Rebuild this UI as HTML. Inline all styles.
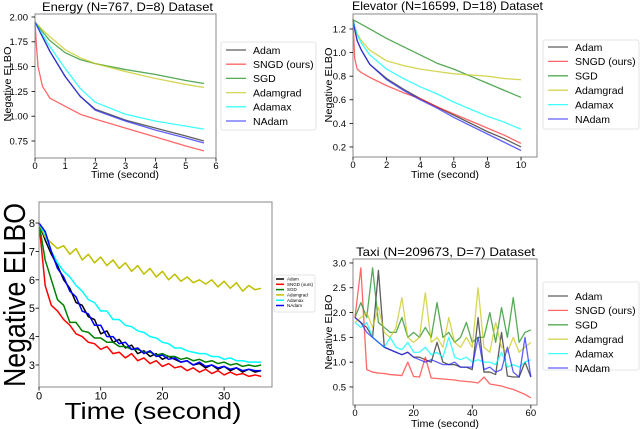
<!DOCTYPE html>
<html><head><meta charset="utf-8"><style>
body{margin:0;background:#fff;width:640px;height:429px;overflow:hidden}
svg{display:block;font-family:"Liberation Sans","DejaVu Sans",sans-serif}
</style></head><body>
<svg id="fig" width="640" height="429" viewBox="0 0 640 429"></svg>
<script>
const seriesNames=["Adam","SNGD (ours)","SGD","Adamgrad","Adamax","NAdam"];
// Energy
const energyT=[0,0.05,0.1,0.25,0.5,1,1.5,2,3,4,5,5.6];
const energyAdam=[1.95,1.92,1.89,1.80,1.65,1.40,1.20,1.07,0.96,0.88,0.80,0.75];
const energySNGD=[1.95,1.7,1.5,1.3,1.18,1.10,1.02,0.97,0.88,0.79,0.70,0.65];
const energySGD=[1.95,1.93,1.91,1.85,1.76,1.64,1.57,1.53,1.47,1.42,1.36,1.33];
const energyAdamgrad=[1.95,1.93,1.92,1.87,1.80,1.67,1.59,1.53,1.45,1.38,1.32,1.29];
const energyAdamax=[1.95,1.92,1.89,1.82,1.70,1.48,1.28,1.14,1.02,0.95,0.90,0.87];
const energyNAdam=[1.95,1.92,1.89,1.80,1.65,1.40,1.20,1.06,0.95,0.86,0.78,0.73];
const energyXTicks=[0,1,2,3,4,5,6];
const energyYTicks=["0.75","1.00","1.25","1.50","1.75","2.00"];
// Elevator
const elevT=[0,0.1,0.25,0.5,1,2,3,4,5,6,7,8,9,10];
const elevAdam=[1.28,1.2,1.1,1.02,0.90,0.78,0.69,0.61,0.54,0.47,0.40,0.33,0.27,0.20];
const elevSNGD=[1.28,0.95,0.86,0.83,0.79,0.72,0.66,0.61,0.54,0.48,0.42,0.36,0.30,0.23];
const elevSGD=[1.28,1.27,1.26,1.24,1.20,1.12,1.05,0.98,0.91,0.86,0.80,0.74,0.68,0.62];
const elevAdamgrad=[1.28,1.22,1.16,1.10,1.02,0.93,0.89,0.86,0.84,0.82,0.81,0.80,0.78,0.77];
const elevAdamax=[1.28,1.22,1.15,1.08,0.98,0.86,0.78,0.71,0.65,0.58,0.52,0.46,0.41,0.35];
const elevNAdam=[1.28,1.2,1.1,1.02,0.90,0.77,0.68,0.60,0.53,0.45,0.38,0.31,0.24,0.17];
const elevXTicks=[0,2,4,6,8,10];
const elevYTicks=["0.2","0.4","0.6","0.8","1.0","1.2"];
// Big (bottom-left)
const bigT=[0,1,2,3,4,5,6,7,8,9,10,11,12,13,14,15,16,17,18,19,20,21,22,23,24,25,26,27,28,29,30,31,32,33,34,35,36];
const bigAdam=[8.0,7.4,6.9,6.5,6.0,5.7,5.2,5.1,4.7,4.6,4.1,4.2,3.8,3.9,3.6,3.7,3.4,3.5,3.3,3.4,3.2,3.3,3.2,3.1,3.15,3.0,3.05,2.9,3.0,2.85,2.95,2.8,2.9,2.75,2.85,2.75,2.8];
const bigSNGD=[8.0,5.8,5.1,4.9,4.6,4.4,4.1,4.0,3.8,3.75,3.55,3.65,3.4,3.45,3.25,3.4,3.15,3.25,3.05,3.15,2.95,3.05,2.9,2.95,2.8,2.9,2.75,2.85,2.7,2.8,2.65,2.75,2.65,2.7,2.6,2.65,2.6];
const bigSGD=[8.0,6.7,6.0,5.3,5.1,4.5,4.5,4.2,4.15,3.95,3.95,3.8,3.8,3.65,3.65,3.55,3.55,3.45,3.45,3.35,3.4,3.3,3.3,3.2,3.25,3.15,3.2,3.1,3.15,3.05,3.1,3.0,3.05,2.95,3.0,2.95,3.0];
const bigAdamgrad=[8.0,7.5,7.3,7.1,7.2,6.9,7.1,6.7,6.9,6.6,6.8,6.5,6.7,6.4,6.6,6.3,6.5,6.2,6.4,6.1,6.3,6.0,6.2,5.95,6.1,5.9,6.0,5.85,6.0,5.75,5.95,5.7,5.9,5.6,5.8,5.65,5.7];
const bigAdamax=[8.0,7.6,7.0,6.6,6.3,6.1,5.8,5.6,5.3,5.2,4.9,4.9,4.6,4.6,4.4,4.35,4.2,4.15,4.0,3.95,3.8,3.75,3.6,3.6,3.5,3.45,3.4,3.4,3.3,3.3,3.2,3.25,3.15,3.15,3.1,3.1,3.1];
const bigNAdam=[8.0,7.7,7.0,6.4,6.1,5.6,5.4,4.9,4.8,4.4,4.4,4.0,4.0,3.75,3.8,3.55,3.6,3.4,3.5,3.3,3.35,3.2,3.25,3.1,3.15,3.0,3.1,2.95,3.0,2.9,2.95,2.85,2.9,2.8,2.85,2.8,2.8];
const bigXTicks=[0,10,20,30];
const bigYTicks=["3","4","5","6","7","8"];
// Taxi
const taxiT=[0,2,4,6,8,10,12,14,16,18,20,22,24,26,28,30,32,34,36,38,40,42,44,46,48,50,52,54,56,58,60];
const taxiAdam=[1.9,1.8,1.7,1.5,2.85,1.3,1.25,1.2,1.15,1.2,1.1,1.1,1.05,1.0,1.4,1.0,0.95,0.95,0.9,0.9,0.85,1.9,0.8,0.8,0.75,1.6,0.72,0.7,0.7,1.0,0.7];
const taxiSNGD=[1.9,2.9,0.85,0.8,0.78,0.77,0.75,0.74,0.73,1.0,0.71,0.70,1.1,0.68,0.67,0.66,0.65,0.64,0.62,0.61,0.60,0.58,0.7,0.56,0.54,0.52,0.48,0.45,0.40,0.35,0.28];
const taxiSGD=[1.9,2.2,1.9,2.9,1.8,1.7,1.6,1.6,1.9,1.5,1.6,1.5,1.7,1.5,2.2,1.5,1.6,1.4,1.5,1.8,1.4,1.5,1.5,2.0,1.4,2.1,1.5,2.3,1.4,1.6,1.65];
const taxiAdamgrad=[1.8,1.9,2.0,1.7,2.1,1.6,1.5,1.7,2.3,1.5,1.4,1.5,2.4,1.4,1.5,1.3,1.9,1.4,1.3,1.5,1.3,2.5,1.3,1.2,1.8,1.3,1.2,1.5,1.2,1.3,1.4];
const taxiAdamax=[1.8,1.7,1.8,1.5,1.4,1.3,1.5,1.3,1.25,1.4,1.2,1.2,1.3,1.15,1.2,1.1,1.5,1.1,1.05,1.1,1.0,1.05,1.0,1.0,0.95,1.2,0.9,0.95,0.9,1.0,1.05];
const taxiNAdam=[1.9,1.8,1.6,1.5,1.4,1.3,1.25,1.2,1.15,1.2,1.1,1.05,1.0,1.05,1.0,0.95,0.95,1.0,0.9,0.9,0.9,1.5,0.85,0.9,0.8,0.85,1.3,0.8,0.7,1.5,0.7];
const taxiXTicks=[0,20,40,60];
const taxiYTicks=["0.5","1.0","1.5","2.0","2.5","3.0"];

const NS="http://www.w3.org/2000/svg";
const svg=document.getElementById('fig');
function mk(tag,attrs,parent,text){const e=document.createElementNS(NS,tag);for(const k in attrs)e.setAttribute(k,attrs[k]);if(text!==undefined)e.textContent=text;(parent||svg).appendChild(e);return e;}
const softCols=["rgba(40,40,40,0.75)","rgba(255,40,40,0.7)","rgba(30,140,30,0.75)","rgba(200,200,30,0.75)","rgba(0,255,255,0.75)","rgba(30,30,255,0.7)"];
const hardCols=["#000","#ff0000","#008000","#bfbf00","#00ffff","#0000ff"];

function plot(o){
  const g=mk('g',{});
  
  
  const sx=v=>o.x0+(v-o.xmin)/(o.xmax-o.xmin)*(o.x1-o.x0);
  const sy=v=>o.y1-(v-o.ymin)/(o.ymax-o.ymin)*(o.y1-o.y0);
  o.series.forEach((s,i)=>{
    const d=s.map((v,j)=>(j?'L':'M')+sx(o.t[j]).toFixed(2)+' '+sy(v).toFixed(2)).join(' ');
    const p=mk('path',{d:d,fill:'none',stroke:o.cols[i],'stroke-width':o.lw,'stroke-linejoin':'round'},g);
    
    
  });
  const fr=mk('rect',{x:o.x0,y:o.y0,width:o.x1-o.x0,height:o.y1-o.y0,fill:'none',stroke:'#888','stroke-width':1},g);
  
  
  o.xt.forEach(v=>{const x=sx(v);mk('line',{x1:x,x2:x,y1:o.y1,y2:o.y1+3.5,stroke:'#000','stroke-width':0.8},g);
    const t=mk('text',{x:x,y:o.y1+3.5+o.fs*0.8,'font-size':o.fs,'text-anchor':'middle'},g,String(v));
    });
  o.yt.forEach(lab=>{const y=sy(parseFloat(lab));mk('line',{x1:o.x0-3.5,x2:o.x0,y1:y,y2:y,stroke:'#000','stroke-width':0.8},g);
    const t=mk('text',{x:o.x0-o.ypad,y:y+o.fs*0.36,'font-size':o.fs,'text-anchor':'end'},g,lab);
    });
  if(o.title){const t=mk('text',{x:o.tx,y:o.ty,'font-size':o.tfs,'text-anchor':'middle',textLength:o.tl,lengthAdjust:'spacingAndGlyphs'},g,o.title);
    }
  const xl=mk('text',{x:o.xlx,y:o.xly,'font-size':o.lfs,'text-anchor':'middle',textLength:o.xll,lengthAdjust:'spacingAndGlyphs'},g,'Time (second)');
  
  const yl=mk('text',{x:0,y:0,'font-size':o.ylfs||o.lfs,'text-anchor':'middle',textLength:o.yll,lengthAdjust:'spacingAndGlyphs',transform:`translate(${o.ylx},${o.yly}) rotate(-90)`},g,'Negative ELBO');
  
  const L=o.leg;const lg=mk('g',{},g);
  
  mk('rect',{x:L.x,y:L.y,width:L.w,height:L.h,rx:2,fill:'#fff',stroke:'#ddd','stroke-width':0.8},lg);
  seriesNames.forEach((n,i)=>{const y=L.ey+i*L.dy;
    const e=mk('g',{},lg);
    mk('line',{x1:L.x+L.lx,x2:L.x+L.lx+L.ll,y1:y,y2:y,stroke:o.cols[i],'stroke-width':o.lw},e);
    mk('text',{x:L.x+L.lx+L.ll+L.gap,y:y+L.fs*0.36,'font-size':L.fs},e,n);});
}
plot({name:'energy-chart',t:energyT,series:[energyAdam,energySNGD,energySGD,energyAdamgrad,energyAdamax,energyNAdam],
  x0:35,x1:216,y0:14,y1:158,xmin:0,xmax:6,ymin:0.5786,ymax:2.0302,xt:energyXTicks,yt:energyYTicks,fs:9.5,ypad:7,tfs:12,lfs:10.5,
  title:'Energy (N=767, D=8) Dataset',tx:127.5,ty:11,tl:171,xlx:125,xly:178,xll:68,ylx:11,yly:84,yll:75,cols:softCols,lw:1.3,
  leg:{x:221,y:42,w:95,h:88,ey:50,dy:14.2,lx:5,ll:20,gap:7,fs:10.5}});
plot({name:'elevator-chart',t:elevT,series:[elevAdam,elevSNGD,elevSGD,elevAdamgrad,elevAdamax,elevNAdam],
  x0:353,x1:537,y0:14,y1:157,xmin:0,xmax:10.95,ymin:0.115,ymax:1.327,xt:elevXTicks,yt:elevYTicks,fs:9.5,ypad:7,tfs:12,lfs:10.5,
  title:'Elevator (N=16599, D=18) Dataset',tx:447.5,ty:10,tl:191,xlx:445,xly:178,xll:68,ylx:332,yly:85,yll:75,cols:softCols,lw:1.3,
  leg:{x:543,y:40,w:96,h:89,ey:47,dy:14.4,lx:5,ll:20,gap:7,fs:10.5}});
plot({name:'big-chart',t:bigT,series:[bigAdam,bigSNGD,bigSGD,bigAdamgrad,bigAdamax,bigNAdam],
  x0:39,x1:272,y0:202,y1:387,xmin:0,xmax:37.76,ymin:2.225,ymax:8.74,xt:bigXTicks,yt:bigYTicks,fs:11,ypad:4,lfs:23,ylfs:31,
  xlx:153,xly:419,xll:177,ylx:25,yly:295,yll:184,cols:hardCols,lw:1.5,
  leg:{x:274,y:275,w:41,h:37,ey:279,dy:5.3,lx:2,ll:8,gap:3,fs:4.5}});
plot({name:'taxi-chart',t:taxiT,series:[taxiAdam,taxiSNGD,taxiSGD,taxiAdamgrad,taxiAdamax,taxiNAdam],
  x0:353,x1:537,y0:259,y1:405,xmin:-0.68,xmax:62.1,ymin:0.136,ymax:3.08,xt:taxiXTicks,yt:taxiYTicks,fs:9.5,ypad:7,tfs:12,lfs:10.5,
  title:'Taxi (N=209673, D=7) Dataset',tx:445.5,ty:256,tl:179,xlx:445,xly:427,xll:68,ylx:332,yly:332,yll:75,cols:softCols,lw:1.3,
  leg:{x:543,y:282,w:96,h:88,ey:296,dy:14.4,lx:5,ll:20,gap:7,fs:10.5}});
</script>
</body></html>
